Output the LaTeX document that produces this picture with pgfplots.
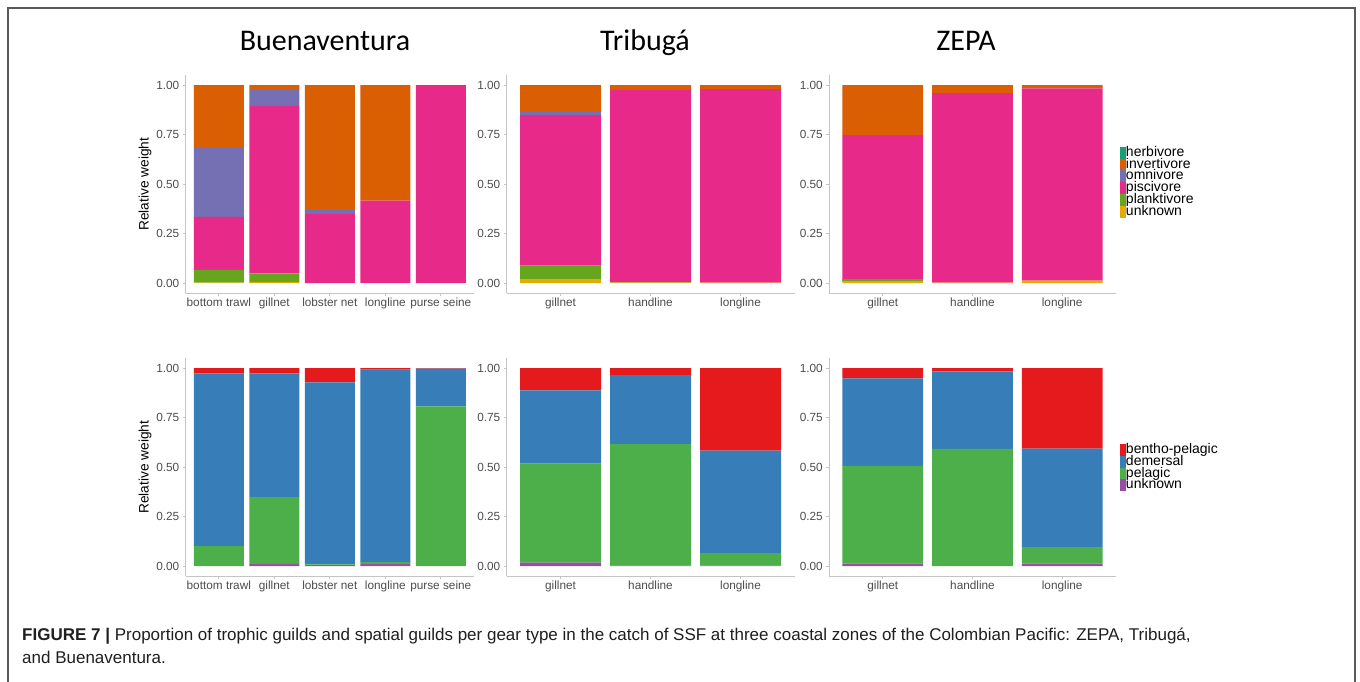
\documentclass[border=0pt]{standalone}
\usepackage{fontspec}
\setmainfont{Liberation Sans}
\newfontfamily\titlefont{Carlito}
\usepackage{pgfplots}
\pgfplotsset{compat=1.18}

\definecolor{cHerb}{HTML}{1B9E77}
\definecolor{cInv}{HTML}{D95F02}
\definecolor{cOmn}{HTML}{7570B3}
\definecolor{cPisc}{HTML}{E7298A}
\definecolor{cPlank}{HTML}{66A61E}
\definecolor{cUnkT}{HTML}{E6AB02}
\definecolor{cBP}{HTML}{E41A1C}
\definecolor{cDem}{HTML}{377EB8}
\definecolor{cPel}{HTML}{4DAF4A}
\definecolor{cUnkS}{HTML}{984EA3}
\definecolor{tickgray}{HTML}{4D4D4D}
\definecolor{axgray}{HTML}{C4C4C4}

\pgfplotsset{
  gg/.style={
    scale only axis, height=217.8pt,
    ybar stacked, bar width=0.9,
    ymin=-0.05, ymax=1.05,
    ytick={0,0.25,0.5,0.75,1},
    yticklabels={0.00,0.25,0.50,0.75,1.00},
    axis x line*=bottom, axis y line*=left,
    axis line style={draw=axgray, line width=0.9pt},
    tick style={draw=axgray, line width=0.7pt},
    tick align=outside, major tick length=3pt,
    ticklabel style={font=\fontsize{11.8}{12}\selectfont, text=tickgray},
    xticklabel style={inner sep=2pt},
    yticklabel style={inner sep=3pt},
    ylabel style={font=\fontsize{13.7}{14}\selectfont},
    every axis plot/.append style={draw=none},
    every axis plot post/.append style={legend image code/.code={\fill[##1] (0pt,-5.9pt) rectangle (6pt,5.9pt);}},
    /pgf/number format/assume math mode=true,
  },
  five/.style={gg, width=288.6pt, xmin=0.4, xmax=5.6, xtick={1,2,3,4,5},
    xticklabels={bottom trawl,gillnet,lobster net,longline,purse seine},
    ylabel={Relative weight},
    ylabel style={at={(axis description cs:-0.1403,0.5)}, anchor=center}},
  three/.style={gg, width=288pt, xmin=0.4, xmax=3.6, xtick={1,2,3},
    xticklabels={gillnet,handline,longline}},
  leg/.style={legend cell align=left, reverse legend,
    legend style={draw=none, fill=none, at={(axis description cs:#1)}, anchor=north west,
      font=\fontsize{14}{14}\selectfont, row sep=0pt, inner sep=0pt, outer sep=0pt,
      nodes={inner sep=0pt, text height=9.4pt, text depth=2.4pt},
      /tikz/every even column/.append style={column sep=1pt}}},
}

\begin{document}
\begin{tikzpicture}
\useasboundingbox (0pt,0pt) rectangle (1360pt,-681pt);
\fill[white] (0pt,0pt) rectangle (1360pt,-681pt);
\draw[gray!70!black, line width=1.6pt] (8pt,-690pt) -- (8pt,-8pt) -- (1355pt,-8pt) -- (1355pt,-690pt);

\node[anchor=base, font=\titlefont\fontsize{30}{30}\selectfont] at (325pt,-50pt) {Buenaventura};
\node[anchor=base, font=\titlefont\fontsize{30}{30}\selectfont] at (645pt,-50pt) {Tribugá};
\node[anchor=base, font=\titlefont\fontsize{30}{30}\selectfont] at (966pt,-50pt) {ZEPA};

% ---------- Top row: trophic guilds ----------
\begin{axis}[five, at={(185.5pt,-293pt)}, anchor=south west]
\addplot[fill=cUnkT] coordinates {(1,0.003) (2,0.005) (3,0) (4,0) (5,0)};
\addplot[fill=cPlank] coordinates {(1,0.064) (2,0.044) (3,0) (4,0) (5,0)};
\addplot[fill=cPisc] coordinates {(1,0.268) (2,0.846) (3,0.349) (4,0.417) (5,1.0)};
\addplot[fill=cOmn] coordinates {(1,0.348) (2,0.080) (3,0.020) (4,0) (5,0)};
\addplot[fill=cInv] coordinates {(1,0.317) (2,0.025) (3,0.631) (4,0.583) (5,0)};
\addplot[fill=cHerb] coordinates {(1,0) (2,0) (3,0) (4,0) (5,0)};
\end{axis}

\begin{axis}[three, at={(506.5pt,-293pt)}, anchor=south west]
\addplot[fill=cUnkT] coordinates {(1,0.017) (2,0.003) (3,0.003)};
\addplot[fill=cPlank] coordinates {(1,0.071) (2,0.002) (3,0)};
\addplot[fill=cPisc] coordinates {(1,0.760) (2,0.971) (3,0.977)};
\addplot[fill=cOmn] coordinates {(1,0.017) (2,0) (3,0)};
\addplot[fill=cInv] coordinates {(1,0.132) (2,0.024) (3,0.020)};
\addplot[fill=cHerb] coordinates {(1,0.003) (2,0) (3,0)};
\end{axis}

\begin{axis}[three, width=287pt, at={(829pt,-293pt)}, anchor=south west, leg={1.0139,0.671}]
\addplot[fill=cUnkT] coordinates {(1,0.010) (2,0.002) (3,0.013)};
\addlegendentry{unknown}
\addplot[fill=cPlank] coordinates {(1,0.010) (2,0) (3,0)};
\addlegendentry{planktivore}
\addplot[fill=cPisc] coordinates {(1,0.728) (2,0.958) (3,0.970)};
\addlegendentry{piscivore}
\addplot[fill=cOmn] coordinates {(1,0) (2,0) (3,0)};
\addlegendentry{omnivore}
\addplot[fill=cInv] coordinates {(1,0.252) (2,0.040) (3,0.017)};
\addlegendentry{invertivore}
\addplot[fill=cHerb] coordinates {(1,0) (2,0) (3,0)};
\addlegendentry{herbivore}
\end{axis}

% ---------- Bottom row: spatial guilds ----------
\begin{axis}[five, at={(185.5pt,-576pt)}, anchor=south west]
\addplot[fill=cUnkS] coordinates {(1,0) (2,0.010) (3,0.005) (4,0.010) (5,0)};
\addplot[fill=cPel] coordinates {(1,0.101) (2,0.338) (3,0.004) (4,0.010) (5,0.807)};
\addplot[fill=cDem] coordinates {(1,0.872) (2,0.625) (3,0.919) (4,0.972) (5,0.191)};
\addplot[fill=cBP] coordinates {(1,0.027) (2,0.027) (3,0.072) (4,0.008) (5,0.002)};
\end{axis}

\begin{axis}[three, at={(506.5pt,-576pt)}, anchor=south west]
\addplot[fill=cUnkS] coordinates {(1,0.017) (2,0.002) (3,0.002)};
\addplot[fill=cPel] coordinates {(1,0.501) (2,0.614) (3,0.064)};
\addplot[fill=cDem] coordinates {(1,0.369) (2,0.349) (3,0.517)};
\addplot[fill=cBP] coordinates {(1,0.113) (2,0.035) (3,0.417)};
\end{axis}

\begin{axis}[three, width=287pt, at={(829pt,-576pt)}, anchor=south west, leg={1.0139,0.606}]
\addplot[fill=cUnkS] coordinates {(1,0.012) (2,0) (3,0.012)};
\addlegendentry{unknown}
\addplot[fill=cPel] coordinates {(1,0.494) (2,0.592) (3,0.084)};
\addlegendentry{pelagic}
\addplot[fill=cDem] coordinates {(1,0.442) (2,0.391) (3,0.497)};
\addlegendentry{demersal}
\addplot[fill=cBP] coordinates {(1,0.052) (2,0.017) (3,0.407)};
\addlegendentry{bentho-pelagic}
\end{axis}

% ---------- Caption ----------
\node[anchor=base west, inner sep=0pt, font=\fontsize{17}{20}\selectfont, text=black!88] at (22pt,-640pt)
  {\textbf{FIGURE 7 |} Proportion of trophic guilds and spatial guilds per gear type in the catch of SSF at three coastal zones of the Colombian Pacific: ZEPA, Tribugá,};
\node[anchor=base west, inner sep=0pt, font=\fontsize{17}{20}\selectfont, text=black!88] at (22pt,-663pt)
  {and Buenaventura.};
\end{tikzpicture}
\end{document}
